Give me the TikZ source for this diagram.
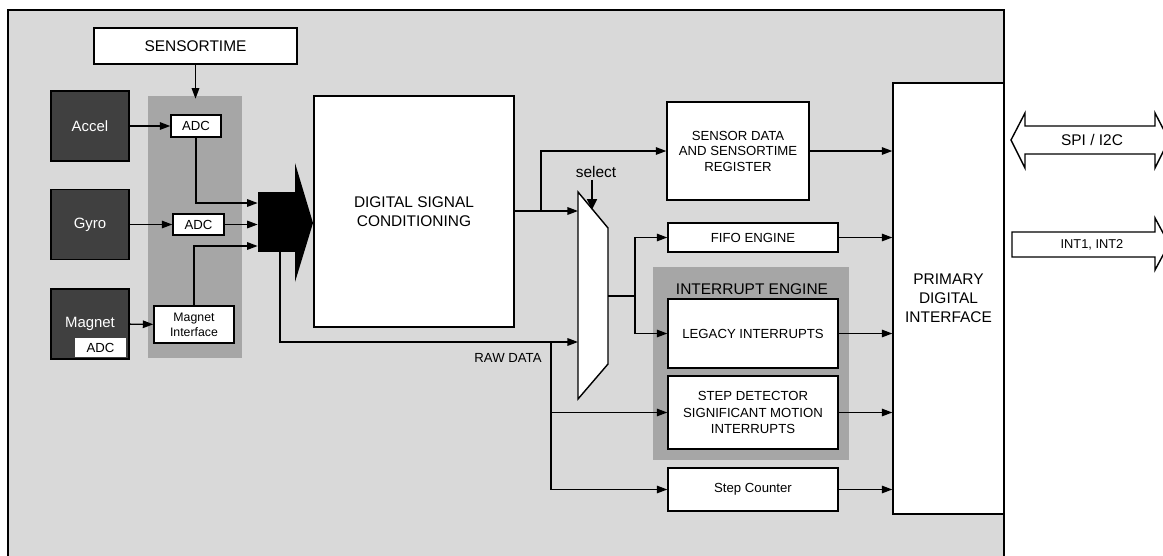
\documentclass[tikz,border=0pt]{standalone}
\usepackage{fontspec}
\setmainfont{Liberation Sans}
\usepackage{xcolor}
\usepackage{tikz}
\usetikzlibrary{positioning,arrows.meta,calc}
\definecolor{bggray}{HTML}{D9D9D9}
\definecolor{panelgray}{HTML}{A6A6A6}
\definecolor{darkbox}{HTML}{404040}
\newcommand{\fsz}[1]{\fontsize{#1}{#1}\selectfont}

\begin{document}
\begin{tikzpicture}[
    x=0.02cm, y=-0.02cm,
    box/.style={rectangle, draw, fill=white, line width=0.8pt, inner sep=1pt,
                align=center, font=\fontsize{7.5}{9}\selectfont},
    sensor/.style={rectangle, draw, fill=darkbox, text=white, line width=0.8pt,
                   minimum width=1.56cm, minimum height=1.4cm, font=\fsz{8.5}},
    arrow/.style={-{Triangle[length=6pt,width=4.3pt]}, line width=0.8pt},
    wire/.style={line width=0.8pt},
    tag/.style={font=\fsz{7.5}, inner sep=1pt},
]
\useasboundingbox (0,0) rectangle (1163,555);
\clip (0,0) rectangle (1163,555);
\draw[fill=bggray, line width=0.8pt] (8,10) rectangle (1004,600);

% Sensors and ADC panel
\fill[panelgray] (148,96) rectangle (242,358);
\node[box, minimum width=4.06cm, minimum height=0.72cm, font=\fsz{8.8}] (sensortime) at (195.5,46) {SENSORTIME};
\node[sensor] (accel) at (90,126) {Accel};
\node[sensor] (gyro) at (90,224.5) {Gyro};
\node[sensor] (magnet) at (90,324) {Magnet};
\node[box, draw=none, minimum width=1.02cm, minimum height=0.38cm] (magadc) at (100.5,347.5) {ADC};
\node[box, minimum width=1cm, minimum height=0.44cm] (adc1) at (196,126) {ADC};
\node[box, minimum width=1.02cm, minimum height=0.42cm] (adc2) at (198.5,224.5) {ADC};
\node[box, minimum width=1.6cm, minimum height=0.74cm, font=\fontsize{7}{8.5}\selectfont] (magif) at (194,324.5) {Magnet\\Interface};

% Merge arrow and conditioning
\node[rectangle, fill=black, minimum width=0.74cm, minimum height=1.2cm, inner sep=0pt] (merge) at (276.5,222) {};
\fill (295,163) -- (313,223) -- (295,282) -- cycle;
\node[box, minimum width=4cm, minimum height=4.62cm, font=\fontsize{8.8}{10.5}\selectfont] (dsc) at (414,211.5) {DIGITAL SIGNAL\\CONDITIONING};

% Multiplexer
\draw[fill=white, line width=0.8pt] (578,192) -- (608,228) -- (608,364) -- (578,399) -- cycle;
\coordinate (muxin1) at (578,211);
\coordinate (muxin2) at (578,342);
\coordinate (muxout) at (608,296);
\node[tag, font=\fsz{8.8}] (select) at (596,172) {select};

% Registers and engines
\node[box, minimum width=2.84cm, minimum height=1.96cm, font=\fontsize{7.5}{8.8}\selectfont] (sensdata) at (738,151) {SENSOR DATA\\AND SENSORTIME\\REGISTER};
\node[box, minimum width=3.4cm, minimum height=0.58cm] (fifo) at (753,237.5) {FIFO ENGINE};
\fill[panelgray] (653,267) rectangle (849,460);
\node[font=\fsz{8.8}] (inteng) at (752,289) {INTERRUPT ENGINE};
\node[box, minimum width=3.4cm, minimum height=1.38cm] (legacy) at (753,333.5) {LEGACY INTERRUPTS};
\node[box, minimum width=3.4cm, minimum height=1.46cm, font=\fontsize{7.5}{9.2}\selectfont] (stepdet) at (753,412.5) {STEP DETECTOR\\SIGNIFICANT MOTION\\INTERRUPTS};
\node[box, minimum width=3.4cm, minimum height=0.86cm] (stepcnt) at (753,489.5) {Step Counter};
\node[box, minimum width=2.22cm, minimum height=8.62cm, font=\fontsize{8.8}{10.7}\selectfont] (primary) at (948.5,298.5) {PRIMARY\\DIGITAL\\INTERFACE};

% Host side buses
\draw[fill=white, line width=0.8pt] (1011,140) -- (1025,113) -- (1025,126) -- (1155,126) -- (1155,113)
    -- (1169,140) -- (1155,168) -- (1155,154) -- (1025,154) -- (1025,168) -- cycle;
\node[font=\fsz{8.8}] (spi) at (1092,140) {SPI / I2C};
\draw[fill=white, line width=0.8pt] (1012,232) -- (1155,232) -- (1155,218) -- (1169,244)
    -- (1155,270) -- (1155,257) -- (1012,257) -- cycle;
\node[font=\fsz{7.3}] (ints) at (1092,244.5) {INT1, INT2};

% Arrows - sensors
\draw[arrow] (sensortime.south) -- ++(0,34);
\draw[arrow] (accel) -- (adc1);
\draw[arrow] (gyro) -- (adc2);
\draw[arrow] (magnet) -- (magif);
\draw[arrow] (adc1.south) |- ([yshift=0.38cm]merge.west);
\draw[arrow] (adc2) -- (adc2 -| merge.west);
\draw[arrow] (magif.north) |- ([yshift=-0.48cm]merge.west);

% Arrows - data paths
\draw[arrow] ([xshift=0.07cm]merge.south) |- (muxin2);
\node[tag] (rawdata) at (508,358) {RAW DATA};
\coordinate (rawsplit) at (551,342);
\draw[arrow] (rawsplit) |- (stepdet.west);
\draw[arrow] (rawsplit) |- (stepcnt.west);
\draw[arrow] (dsc.east |- muxin1) -- (muxin1);
\coordinate (dscsplit) at (541,211);
\draw[arrow] (dscsplit) |- (sensdata.west);
\draw[-{Triangle[length=6pt,width=5.5pt]}, line width=1.3pt] ([xshift=-0.08cm]select.south) -- ++(0,30);
\coordinate (muxsplit) at (635,296);
\draw[wire] (muxout) -- (muxsplit);
\draw[arrow] (muxsplit) |- (fifo.west);
\draw[arrow] (muxsplit) |- (legacy.west);
\foreach \n in {sensdata,fifo,legacy,stepdet,stepcnt}
    \draw[arrow] (\n.east) -- (\n.east -| primary.west);
\end{tikzpicture}
\end{document}
